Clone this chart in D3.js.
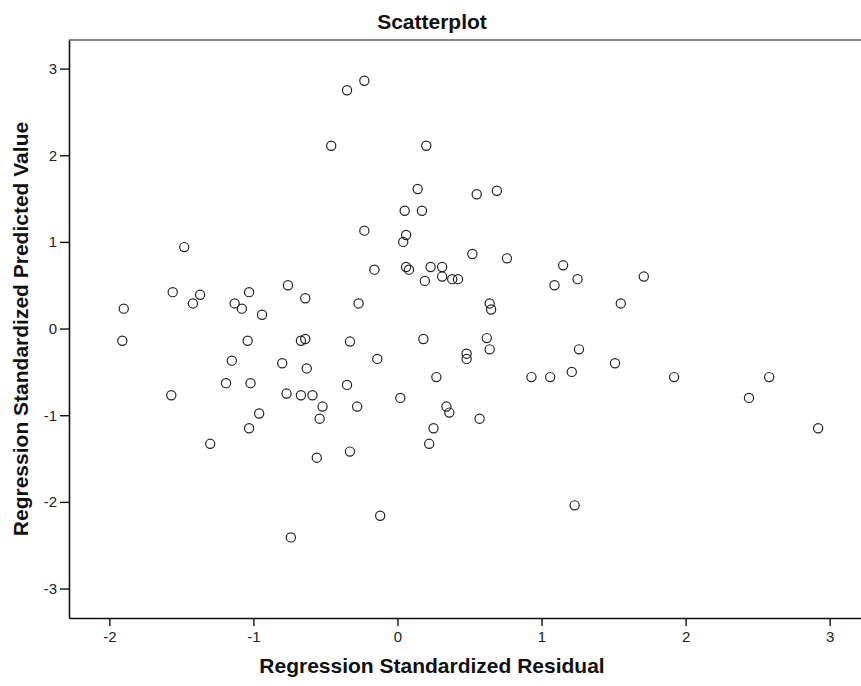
<!DOCTYPE html>
<html>
<head>
<meta charset="utf-8">
<script src="https://cdn.jsdelivr.net/npm/d3@7"></script>
<style>
    body { margin: 0; background: #fff; }
</style>
</head>
<body>
<div id="chart"></div>
<script>
const residual = [
    -0.23, -0.35, -0.46, 0.20, 0.14, 0.05, 0.17, -0.23, 0.06, 0.04,
    -1.48, -0.16, 0.06, 0.08, 0.23, 0.31, 0.31, 0.19, 0.38, 0.42,
    -0.76, -1.56, -1.03, -1.37, -0.64, -1.42, -1.13, -0.27, -1.90, -1.08,
    -0.94, 0.55, 0.69, 0.52, 0.76, 1.15, 1.09, 1.25, 1.71, 0.64,
    0.65, 1.55, -1.91, -1.04, -0.67, -0.64, -0.33, 0.18, -1.15, -0.80,
    -0.63, -0.14, -1.19, -1.02, -0.35, -1.57, -0.77, -0.67, -0.59, 0.02,
    -0.52, -0.28, 0.34, 0.36, -0.96, -0.54, 0.27, 0.25, -1.03, -1.30,
    0.22, -0.33, -0.56, -0.12, -0.74, 0.62, 0.64, 0.48, 0.48, 1.26,
    1.51, 0.93, 1.06, 1.21, 1.92, 2.58, 2.44, 2.92, 0.57, 1.23
]
const predicted = [
    2.86, 2.75, 2.11, 2.11, 1.61, 1.36, 1.36, 1.13, 1.08, 1.00,
    0.94, 0.68, 0.71, 0.68, 0.71, 0.71, 0.60, 0.55, 0.57, 0.57,
    0.50, 0.42, 0.42, 0.39, 0.35, 0.29, 0.29, 0.29, 0.23, 0.23,
    0.16, 1.55, 1.59, 0.86, 0.81, 0.73, 0.50, 0.57, 0.60, 0.29,
    0.22, 0.29, -0.14, -0.14, -0.14, -0.12, -0.15, -0.12, -0.37, -0.40,
    -0.46, -0.35, -0.63, -0.63, -0.65, -0.77, -0.75, -0.77, -0.77, -0.80,
    -0.90, -0.90, -0.90, -0.97, -0.98, -1.04, -0.56, -1.15, -1.15, -1.33,
    -1.33, -1.42, -1.49, -2.16, -2.41, -0.11, -0.24, -0.29, -0.35, -0.24,
    -0.40, -0.56, -0.56, -0.50, -0.56, -0.56, -0.80, -1.15, -1.04, -2.04
]
const xTicks = [-2, -1, 0, 1, 2, 3]
const yTicks = [-3, -2, -1, 0, 1, 2, 3]

const width = 861
const height = 686
const margin = { top: 40, right: -9, bottom: 68, left: 69 }

const points = residual.map((r, i) => [r, predicted[i]])

const svg = d3.select('#chart').append('svg')
    .attr('width', width)
    .attr('height', height)
    .attr('font-family', '\'Liberation Sans\', Arial, sans-serif')

const x = d3.scaleLinear()
    .domain([-2.28, 3.28])
    .range([margin.left, width - margin.right])

const y = d3.scaleLinear()
    .domain([-3.34, 3.33])
    .range([height - margin.bottom, margin.top])

// plain hyphen, no decimals, like the original
const fmt = d => String(d)

// frame top
svg.append('line')
    .attr('x1', margin.left)
    .attr('x2', width)
    .attr('y1', margin.top)
    .attr('y2', margin.top)
    .attr('stroke', '#888')
    .attr('stroke-width', 2)

// points
svg.append('g')
    .selectAll('circle').data(points).enter()
    .append('circle')
    .attr('cx', d => x(d[0]))
    .attr('cy', d => y(d[1]))
    .attr('r', 4.6)
    .attr('fill', 'none')
    .attr('stroke', '#222')
    .attr('stroke-width', 1.2)

// axes
svg.append('g')
    .attr('transform', `translate(0,${height - margin.bottom})`)
    .call(d3.axisBottom(x).tickValues(xTicks).tickFormat(fmt).tickSize(8).tickPadding(5).tickSizeOuter(0))
    .call(g => {
        g.select('.domain').attr('stroke', '#111').attr('stroke-width', 1.6)
        g.selectAll('.tick line').attr('stroke', '#111').attr('stroke-width', 1.4)
        g.selectAll('text').attr('font-size', 15).attr('fill', '#222').attr('font-family', null)
    })

svg.append('g')
    .attr('transform', `translate(${margin.left},0)`)
    .call(d3.axisLeft(y).tickValues(yTicks).tickFormat(fmt).tickSize(9).tickPadding(3).tickSizeOuter(0))
    .call(g => {
        g.select('.domain').attr('stroke', '#111').attr('stroke-width', 1.6)
        g.selectAll('.tick line').attr('stroke', '#111').attr('stroke-width', 1.4)
        g.selectAll('text').attr('font-size', 15).attr('fill', '#222').attr('font-family', null)
    })

// titles
svg.append('text')
    .attr('x', 432)
    .attr('y', 29)
    .attr('text-anchor', 'middle')
    .attr('font-size', 21)
    .attr('font-weight', 'bold')
    .attr('fill', '#111')
    .text('Scatterplot')

svg.append('text')
    .attr('x', 432)
    .attr('y', 673)
    .attr('text-anchor', 'middle')
    .attr('font-size', 21)
    .attr('font-weight', 'bold')
    .attr('fill', '#111')
    .text('Regression Standardized Residual')

svg.append('text')
    .attr('transform', 'translate(28,329) rotate(-90)')
    .attr('text-anchor', 'middle')
    .attr('font-size', 21)
    .attr('font-weight', 'bold')
    .attr('fill', '#111')
    .text('Regression Standardized Predicted Value')
</script>
</body>
</html>
